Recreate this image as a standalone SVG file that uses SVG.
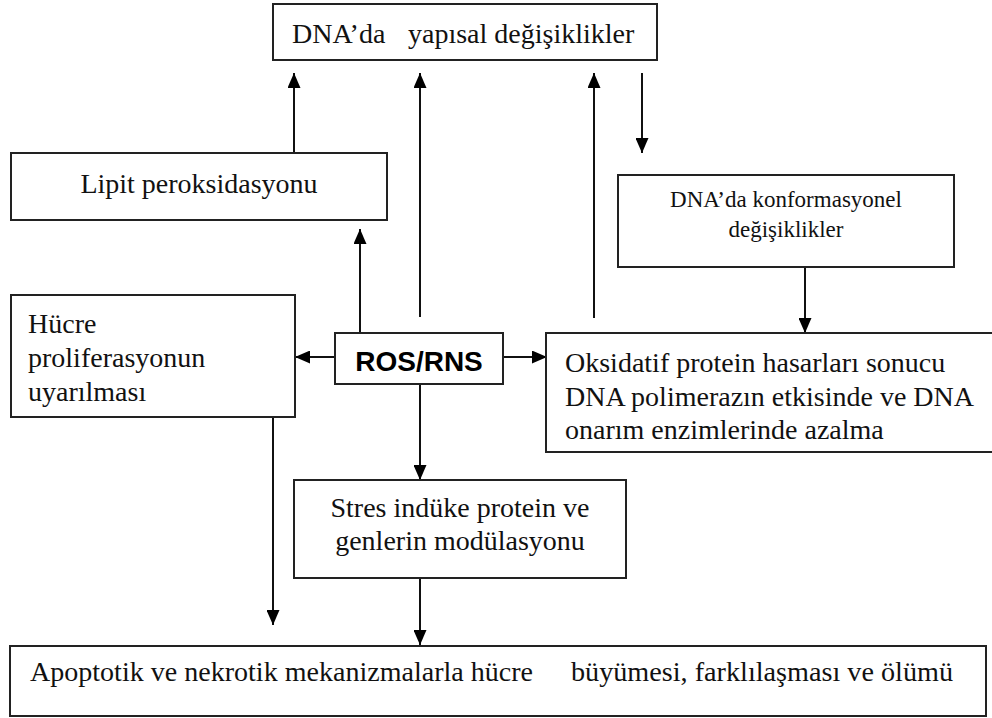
<svg xmlns="http://www.w3.org/2000/svg" width="992" height="718" viewBox="0 0 992 718">
<style>
.box{fill:#fff;stroke:#222;stroke-width:2}
.t{font-family:"Liberation Serif","Times New Roman",serif;font-size:28px;fill:#111}
.ts{font-family:"Liberation Serif","Times New Roman",serif;font-size:23px;fill:#111}
.b{font-family:"Liberation Sans",Arial,sans-serif;font-size:28px;font-weight:bold;fill:#000}
.c{fill:none;stroke:#111;stroke-width:2}
</style>
<defs>
<marker id="ah" markerUnits="userSpaceOnUse" markerWidth="15" markerHeight="13" refX="15" refY="6.5" orient="auto">
<path d="M0,0 L15,6.5 L0,13 z" fill="#000"/>
</marker>
</defs>
<rect width="992" height="718" fill="#fff"/>
<g id="connectors">
<line class="c" x1="294" y1="153" x2="294" y2="73" marker-end="url(#ah)"/>
<line class="c" x1="420" y1="317" x2="420" y2="73" marker-end="url(#ah)"/>
<line class="c" x1="594" y1="318" x2="594" y2="73" marker-end="url(#ah)"/>
<line class="c" x1="642" y1="73" x2="642" y2="153" marker-end="url(#ah)"/>
<line class="c" x1="360" y1="333" x2="360" y2="229" marker-end="url(#ah)"/>
<line class="c" x1="805" y1="267" x2="805" y2="333" marker-end="url(#ah)"/>
<line class="c" x1="335" y1="357" x2="295" y2="357" marker-end="url(#ah)"/>
<line class="c" x1="503" y1="357" x2="547" y2="357" marker-end="url(#ah)"/>
<line class="c" x1="420" y1="384" x2="420" y2="480" marker-end="url(#ah)"/>
<line class="c" x1="273" y1="417" x2="273" y2="625" marker-end="url(#ah)"/>
<line class="c" x1="420" y1="578" x2="420" y2="645" marker-end="url(#ah)"/>
</g>
<g id="n-dna-yapisal">
<rect class="box" x="273" y="4" width="384" height="56"/>
<text class="t" x="292" y="43">DNA’da</text>
<text class="t" x="408" y="43">yapısal değişiklikler</text>
</g>
<g id="n-lipit">
<rect class="box" x="11" y="153" width="376" height="67"/>
<text class="t" x="199" y="193" text-anchor="middle">Lipit peroksidasyonu</text>
</g>
<g id="n-dna-konf">
<rect class="box" x="618" y="175" width="336" height="92"/>
<text class="ts" x="786" y="207" text-anchor="middle">DNA’da konformasyonel</text>
<text class="ts" x="786" y="237" text-anchor="middle">değişiklikler</text>
</g>
<g id="n-hucre">
<rect class="box" x="11" y="295" width="284" height="122"/>
<text class="t" x="28" y="333">Hücre</text>
<text class="t" x="28" y="367">proliferasyonun</text>
<text class="t" x="28" y="401">uyarılması</text>
</g>
<g id="n-ros">
<rect class="box" x="335" y="333" width="168" height="51"/>
<text class="b" x="419" y="371" text-anchor="middle">ROS/RNS</text>
</g>
<g id="n-oksidatif">
<rect class="box" x="546" y="333" width="460" height="119"/>
<text class="t" x="565" y="372">Oksidatif protein hasarları sonucu</text>
<text class="t" x="565" y="406">DNA polimerazın etkisinde ve DNA</text>
<text class="t" x="565" y="439">onarım enzimlerinde azalma</text>
</g>
<g id="n-stres">
<rect class="box" x="294" y="480" width="332" height="98"/>
<text class="t" x="460" y="517" text-anchor="middle">Stres indüke protein ve</text>
<text class="t" x="460" y="550" text-anchor="middle">genlerin modülasyonu</text>
</g>
<g id="n-apoptotik">
<rect class="box" x="10" y="646" width="976" height="70"/>
<text class="t" x="30" y="681" textLength="503" lengthAdjust="spacingAndGlyphs">Apoptotik ve nekrotik mekanizmalarla hücre</text>
<text class="t" x="571" y="681" textLength="382" lengthAdjust="spacingAndGlyphs">büyümesi, farklılaşması ve ölümü</text>
</g>
</svg>
